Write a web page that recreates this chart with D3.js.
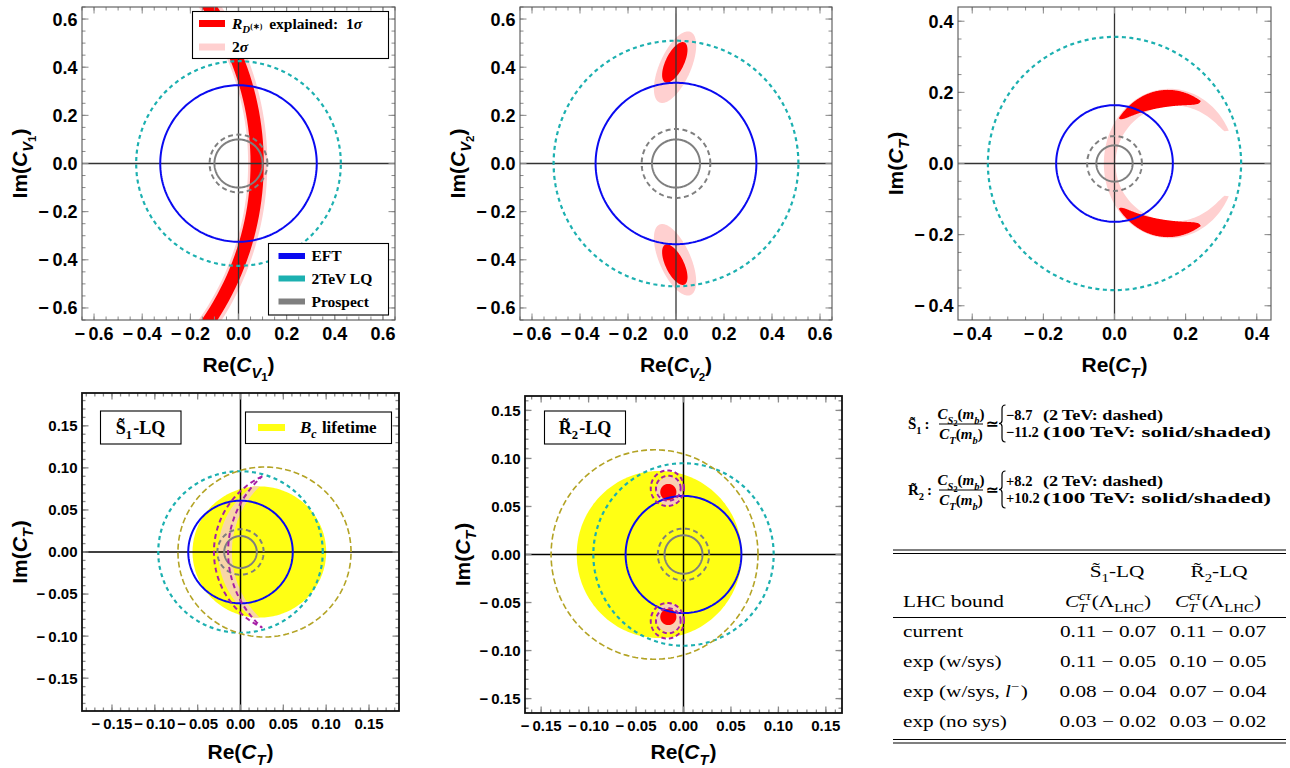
<!DOCTYPE html>
<html>
<head>
<meta charset="utf-8">
<script src="https://cdn.jsdelivr.net/npm/d3@7"></script>
<style>
  body { margin: 0; background: #fff; }
  svg { display: block; }
</style>
</head>
<body>
<svg width="1290" height="768"></svg>
<script>
// ---------- values ----------
const cvTicks = [-0.6, -0.4, -0.2, 0, 0.2, 0.4, 0.6];
const ctTicks = [-0.4, -0.2, 0, 0.2, 0.4];
const lqTicks = [-0.15, -0.10, -0.05, 0, 0.05, 0.10, 0.15];

// bounds drawn as circles: [kind, centre on Re axis, radius]
const cv1Circles = [['lq', 0, 0.425], ['eft', 0, 0.325], ['prospDash', 0, 0.12], ['prosp', 0, 0.10]];
const cv2Circles = [['lq', 0, 0.51], ['eft', 0, 0.335], ['prospDash', 0, 0.143], ['prosp', 0, 0.10]];
const ctCircles  = [['lq', 0, 0.356], ['eft', 0, 0.164], ['prospDash', 0, 0.077], ['prosp', 0, 0.051]];
const s1Circles  = [['lq', 0, 0.096], ['bc2tev', 0.028, 0.101], ['eft', 0, 0.061], ['prospDash', 0, 0.027], ['prosp', 0, 0.019]];
const r2Circles  = [['lq', 0, 0.095], ['bc2tev', -0.0305, 0.109], ['eft', 0, 0.061], ['prospDash', 0, 0.027], ['prosp', 0, 0.020]];

// R_D(*) band for C_V1: [level, centre Re, inner radius, outer radius]
const cv1Band = [['2s', -1.09, 1.13, 1.21], ['1s', -1.09, 1.14, 1.195]];
// C_V2 regions: [level, Re, Im, semi-major, semi-minor, tilt deg]
const cv2Blobs = [
  ['2s', -0.004, 0.40, 0.16, 0.065, 66], ['1s', -0.005, 0.42, 0.092, 0.038, 64],
  ['2s', -0.004, -0.40, 0.16, 0.065, -66], ['1s', -0.005, -0.42, 0.092, 0.038, -64]
];
// C_T crescents: [level, centre Re, outer a, outer b, inner a, inner b, from deg, to deg, taper]
const ctCrescents = [
  ['2s', 0.155, 0.185, 0.21, 0.152, 0.155, 26, 334, 0.3],
  ['1s', 0.15, 0.175, 0.207, 0.15, 0.158, 58, 142, 0.5],
  ['1s', 0.15, 0.175, 0.207, 0.15, 0.158, 218, 302, 0.5]
];
// S1-LQ panel
const s1Lifetime = [0.022, 0.078];                       // Bc lifetime, 100 TeV (centre, radius)
const s1Lens2TeV = [[0.069, 0.100], [0.107, 0.1215]];    // R_D(*) 2 TeV (dashed)
const s1Lens100  = [[0.070, 0.096], [0.100, 0.110]];     // R_D(*) 100 TeV (shaded)
// R2-LQ panel
const r2Lifetime = [-0.0255, 0.087];
const r2Blobs = [['2s', -0.015, 0.066, 0.014, 0.015], ['1s', -0.016, 0.065, 0.0085, 0.0085],
                 ['2s', -0.015, -0.066, 0.014, 0.015], ['1s', -0.016, -0.065, 0.0085, 0.0085]];
const r2Rings = [[-0.017, 0.069, 0.0175, 0.0185], [-0.016, 0.069, 0.013, 0.013],
                 [-0.017, -0.069, 0.0175, 0.0185], [-0.016, -0.069, 0.013, 0.013]];

// right hand text
const s1Ratio = ['\u22128.7', '\u221211.2'];
const r2Ratio = ['+8.2', '+10.2'];
const ratioNotes = ['(2\u2009TeV: dashed)', '(100\u2009TeV: solid/shaded)'];
const tableRows = ['current', 'exp (w/sys)', 'exp (w/sys, ', 'exp (no sys)'];
const s1Bounds = ['0.11 \u2212 0.07', '0.11 \u2212 0.05', '0.08 \u2212 0.04', '0.03 \u2212 0.02'];
const r2Bounds = ['0.11 \u2212 0.07', '0.10 \u2212 0.05', '0.07 \u2212 0.04', '0.03 \u2212 0.02'];

// ---------- styles ----------
const serif = "'Liberation Serif', 'Times New Roman', serif";
const sans = "'Liberation Sans', Arial, sans-serif";
const lineStyle = {
  lq:        {stroke: '#1cb0b0', width: 2.2, dash: '4,3.5'},
  bc2tev:    {stroke: '#b3a324', width: 1.6, dash: '6,3'},
  eft:       {stroke: '#0a0af0', width: 2,   dash: null},
  prospDash: {stroke: '#7f7f7f', width: 2,   dash: '5,3.5'},
  prosp:     {stroke: '#7f7f7f', width: 2,   dash: null}
};
const fillStyle = {'1s': '#ff0000', '2s': '#ffd0d0'};
const peach = '#f8d6a6';

const svg = d3.select('svg');
const defs = svg.append('defs');

const panels = [
  {id: 'p1', left: 82,  right: 395, top: 7,   bottom: 320, dx: 0.65,  dy: 0.65,  ticks: cvTicks, minor: 0.05, digits: 1, heavy: false, sub: 'V', subsub: '1', ylabX: 20,  xlabY: 372},
  {id: 'p2', left: 520, right: 832, top: 7,   bottom: 320, dx: 0.65,  dy: 0.65,  ticks: cvTicks, minor: 0.05, digits: 1, heavy: false, sub: 'V', subsub: '2', ylabX: 458, xlabY: 372},
  {id: 'p3', left: 958, right: 1271, top: 7,  bottom: 320, dx: 0.44,  dy: 0.44,  ticks: ctTicks, minor: 0.05, digits: 1, heavy: false, sub: 'T', subsub: '',  ylabX: 896, xlabY: 372},
  {id: 'p4', left: 82,  right: 399, top: 393, bottom: 711, dx: 0.185, dy: 0.189, ticks: lqTicks, minor: 0.01, digits: 2, heavy: true,  sub: 'T', subsub: '',  ylabX: 20,  xlabY: 759},
  {id: 'p5', left: 525, right: 842, top: 396, bottom: 713, dx: 0.167, dy: 0.165, ticks: lqTicks, minor: 0.01, digits: 2, heavy: true,  sub: 'T', subsub: '',  ylabX: 463, xlabY: 759}
];

// ---------- helpers ----------
const line = d3.line();

function ellipsePt(cx, cy, a, b, rot, tDeg) {
  const t = tDeg * Math.PI / 180, r = rot * Math.PI / 180;
  const ex = a * Math.cos(t), ey = b * Math.sin(t);
  return [cx + ex * Math.cos(r) - ey * Math.sin(r), cy + ex * Math.sin(r) + ey * Math.cos(r)];
}
// points on an ellipse (data coords) mapped through the panel scales
function ringPoints(p, cx, cy, a, b, rot, t0, t1) {
  const n = Math.max(12, Math.ceil(Math.abs(t1 - t0) / 1.5));
  return d3.range(n + 1).map(i => {
    const [u, v] = ellipsePt(cx, cy, a, b, rot, t0 + (t1 - t0) * i / n);
    return [p.x(u), p.y(v)];
  });
}
const closed = pts => line(pts) + 'Z';
const circlePath = (p, cx, cy, r) => closed(ringPoints(p, cx, cy, r, r, 0, 0, 360));

// crescent between two concentric ellipses, pinched to points at both ends
function crescentPath(p, d) {
  const [, cx, ao, bo, ai, bi, t0, t1, k] = d;
  const n = 160, outer = [], inner = [];
  d3.range(n + 1).forEach(i => {
    const t = t0 + (t1 - t0) * i / n;
    const w = Math.pow(Math.sin(Math.PI * i / n), k);
    const po = ellipsePt(cx, 0, ao, bo, 0, t), pi = ellipsePt(cx, 0, ai, bi, 0, t);
    outer.push([p.x(po[0]), p.y(po[1])]);
    inner.push([p.x(po[0] + w * (pi[0] - po[0])), p.y(po[1] + w * (pi[1] - po[1]))]);
  });
  return closed(outer.concat(inner.reverse()));
}

// crescent = circle c1 minus circle c2 (both centred on the real axis)
function lensPath(p, c1, c2) {
  const [a1, r1] = c1, [a2, r2] = c2;
  const xs = (r1 * r1 - r2 * r2 - a1 * a1 + a2 * a2) / (2 * (a2 - a1));
  const ys = Math.sqrt(r1 * r1 - (xs - a1) * (xs - a1));
  const th1 = Math.atan2(ys, xs - a1) * 180 / Math.PI;
  const th2 = Math.atan2(ys, xs - a2) * 180 / Math.PI;
  return closed(ringPoints(p, a1, 0, r1, r1, 0, th1, 360 - th1)
    .concat(ringPoints(p, a2, 0, r2, r2, 0, 360 - th2, th2)));
}

const levelScale = {b: 1, sub: 0.7, ss: 0.55, sup: 0.7, ssup: 0.5};
const levelOff = {b: 0, sub: 0.3, ss: 0.45, sup: -0.4, ssup: 0.05};

// text built of pieces: [text, level, italic, dx]
function rich(parent, x, y, parts, size, opts = {}) {
  const t = parent.append('text').attr('x', x).attr('y', y)
    .attr('font-size', size).attr('font-family', opts.family || serif)
    .attr('font-weight', opts.weight || 'normal')
    .attr('text-anchor', opts.anchor || 'start')
    .attr('fill', '#000');
  if (opts.rotate) t.attr('transform', `rotate(-90,${x},${y})`);
  let shift = 0;
  parts.forEach(([txt, lvl = 'b', it = false, dx = 0]) => {
    const off = size * levelOff[lvl];
    const sp = t.append('tspan').text(txt)
      .attr('font-size', size * levelScale[lvl])
      .attr('font-style', it ? 'italic' : 'normal')
      .attr('dy', off - shift);
    if (dx) sp.attr('dx', dx);
    shift = off;
  });
  return t;
}

function tickVals(d, step) {
  return d3.range(Math.ceil(-d / step - 1e-9), Math.floor(d / step + 1e-9) + 1).map(i => +(i * step).toFixed(4));
}

function drawCircles(p, list) {
  p.lines.selectAll(null).data(list).join('path')
    .attr('d', d => circlePath(p, d[1], 0, d[2]))
    .attr('fill', 'none')
    .attr('stroke', d => lineStyle[d[0]].stroke)
    .attr('stroke-width', d => lineStyle[d[0]].width)
    .attr('stroke-dasharray', d => lineStyle[d[0]].dash);
}

// ---------- panels ----------
panels.forEach(p => {
  p.x = d3.scaleLinear().domain([-p.dx, p.dx]).range([p.left, p.right]);
  p.y = d3.scaleLinear().domain([-p.dy, p.dy]).range([p.bottom, p.top]);
  defs.append('clipPath').attr('id', 'clip-' + p.id).append('rect')
    .attr('x', p.left).attr('y', p.top).attr('width', p.right - p.left).attr('height', p.bottom - p.top);
  p.g = svg.append('g');
  const plot = p.g.append('g').attr('clip-path', `url(#clip-${p.id})`);
  p.fills = plot.append('g');
  p.axes = plot.append('g');
  p.lines = plot.append('g');

  // zero lines
  p.axes.append('line').attr('x1', p.x(0)).attr('x2', p.x(0)).attr('y1', p.top).attr('y2', p.bottom);
  p.axes.append('line').attr('x1', p.left).attr('x2', p.right).attr('y1', p.y(0)).attr('y2', p.y(0));
  p.axes.selectAll('line').attr('stroke', p.heavy ? '#000' : '#333').attr('stroke-width', p.heavy ? 1.5 : 1.3);

  // frame ticks, inward on all sides
  const tg = p.g.append('g').attr('stroke', '#8a8a8a').attr('stroke-width', p.heavy ? 1.3 : 1);
  const addTicks = (vals, len) => {
    vals.forEach(v => {
      const xv = p.x(v), yv = p.y(v);
      if (v >= -p.dx && v <= p.dx) {
        tg.append('line').attr('x1', xv).attr('x2', xv).attr('y1', p.bottom).attr('y2', p.bottom - len);
        tg.append('line').attr('x1', xv).attr('x2', xv).attr('y1', p.top).attr('y2', p.top + len);
      }
      if (v >= -p.dy && v <= p.dy) {
        tg.append('line').attr('y1', yv).attr('y2', yv).attr('x1', p.left).attr('x2', p.left + len);
        tg.append('line').attr('y1', yv).attr('y2', yv).attr('x1', p.right).attr('x2', p.right - len);
      }
    });
  };
  addTicks(tickVals(Math.max(p.dx, p.dy), p.minor), 3.5);
  addTicks(p.ticks, 6.5);
  p.g.append('rect').attr('x', p.left).attr('y', p.top)
    .attr('width', p.right - p.left).attr('height', p.bottom - p.top)
    .attr('fill', 'none').attr('stroke', p.heavy ? '#111' : '#555').attr('stroke-width', p.heavy ? 1.8 : 1.1);

  // tick labels
  const fmt = d3.format('.' + p.digits + 'f');
  const lab = v => (v < 0 ? '\u2212\u2009' : '') + fmt(Math.abs(v));
  const fs = p.heavy ? 15 : 18;
  const tl = p.g.append('g').attr('font-family', sans).attr('font-weight', 'bold').attr('font-size', fs);
  tl.selectAll(null).data(p.ticks).join('text')
    .attr('x', d => p.x(d)).attr('y', p.bottom + (p.heavy ? 18 : 20))
    .attr('text-anchor', 'middle').text(lab);
  tl.selectAll(null).data(p.ticks).join('text')
    .attr('x', p.left - 4.5).attr('y', d => p.y(d) + fs * 0.36)
    .attr('text-anchor', 'end').text(lab);

  // axis titles
  const parts = lead => {
    const a = [[lead + '('], ['C', 'b', true], [p.sub, 'sub', true]];
    if (p.subsub) a.push([p.subsub, 'ss']);
    a.push([')', 'b', false, p.subsub ? 0 : 1]);
    return a;
  };
  rich(p.g, (p.left + p.right) / 2, p.xlabY, parts('Re'), 21, {family: sans, weight: 'bold', anchor: 'middle'});
  rich(p.g, p.ylabX + 7, (p.top + p.bottom) / 2, parts('Im'), 21, {family: sans, weight: 'bold', anchor: 'middle', rotate: true});
  p.top_ = p.g.append('g');
});

const [P1, P2, P3, P4, P5] = panels;

// panel 1: R_D(*) band for C_V1
P1.fills.selectAll(null).data(cv1Band).join('path')
  .attr('d', d => circlePath(P1, d[1], 0, d[3]) + circlePath(P1, d[1], 0, d[2]))
  .attr('fill-rule', 'evenodd')
  .attr('fill', d => fillStyle[d[0]]);
drawCircles(P1, cv1Circles);

// panel 2: C_V2 regions
P2.fills.selectAll(null).data(cv2Blobs).join('path')
  .attr('d', d => closed(ringPoints(P2, d[1], d[2], d[3], d[4], d[5], 0, 360)))
  .attr('fill', d => fillStyle[d[0]]);
drawCircles(P2, cv2Circles);

// panel 3: C_T crescents
P3.fills.selectAll(null).data(ctCrescents).join('path')
  .attr('d', d => crescentPath(P3, d))
  .attr('fill', d => fillStyle[d[0]]);
drawCircles(P3, ctCircles);

// panel 4: S1-LQ
P4.fills.append('path').attr('d', circlePath(P4, s1Lifetime[0], 0, s1Lifetime[1])).attr('fill', '#ffff14');
defs.append('clipPath').attr('id', 'life-s1').append('path').attr('d', circlePath(P4, s1Lifetime[0], 0, s1Lifetime[1]));
P4.fills.append('path').attr('d', lensPath(P4, s1Lens100[0], s1Lens100[1]))
  .attr('clip-path', 'url(#life-s1)').attr('fill', peach);
drawCircles(P4, s1Circles);
P4.lines.append('path').attr('d', lensPath(P4, s1Lens2TeV[0], s1Lens2TeV[1]))
  .attr('fill', 'none').attr('stroke', '#a61fa6').attr('stroke-width', 2).attr('stroke-dasharray', '5,3.5');

// panel 5: R2-LQ
P5.fills.append('path').attr('d', circlePath(P5, r2Lifetime[0], 0, r2Lifetime[1])).attr('fill', '#ffff14');
P5.fills.selectAll(null).data(r2Blobs).join('path')
  .attr('d', d => closed(ringPoints(P5, d[1], d[2], d[3], d[4], 0, 0, 360)))
  .attr('fill', d => d[0] === '2s' ? '#f9cfb4' : fillStyle['1s']);
drawCircles(P5, r2Circles);
P5.lines.selectAll(null).data(r2Rings).join('path')
  .attr('d', d => closed(ringPoints(P5, d[0], d[1], d[2], d[3], 0, 0, 360)))
  .attr('fill', 'none').attr('stroke', '#a61fa6').attr('stroke-width', 2).attr('stroke-dasharray', '4.5,3');

// ---------- legends ----------
function box(g, x0, y0, x1, y1) {
  g.append('rect').attr('x', x0).attr('y', y0).attr('width', x1 - x0).attr('height', y1 - y0)
    .attr('fill', '#fff').attr('stroke', '#000').attr('stroke-width', 1.1);
}
function swatch(g, x0, x1, y, color, w) {
  g.append('line').attr('x1', x0).attr('x2', x1).attr('y1', y).attr('y2', y)
    .attr('stroke', color).attr('stroke-width', w);
}

box(P1.top_, 192.5, 11.5, 388.5, 58.5);
swatch(P1.top_, 199, 225, 23.5, fillStyle['1s'], 7);
swatch(P1.top_, 199, 225, 47, fillStyle['2s'], 7);
rich(P1.top_, 232, 28.5, [['R', 'b', true], ['D', 'sub', true], ['(\u2217)', 'ssup'], [' explained:\u20021', 'b', false, 3], ['\u03c3', 'b', true]], 15.5, {weight: 'bold'});
rich(P1.top_, 232, 52, [['2'], ['\u03c3', 'b', true]], 15.5, {weight: 'bold'});

box(P1.top_, 268.5, 243.5, 388.5, 315);
[['EFT', 'eft', 256], ['2TeV LQ', 'lq', 278.5], ['Prospect', 'prosp', 301.5]].forEach(([t, k, y]) => {
  swatch(P1.top_, 278.5, 305, y, lineStyle[k].stroke, 6);
  P1.top_.append('text').attr('x', 311.5).attr('y', y + 5).attr('font-family', serif)
    .attr('font-weight', 'bold').attr('font-size', 15.5).text(t);
});

box(P4.top_, 100.5, 411, 181, 444);
rich(P4.top_, 140.5, 433.5, [['S\u0303'], ['1', 'sub'], ['-LQ', 'b', false, 1]], 18, {weight: 'bold', anchor: 'middle'});
box(P4.top_, 245.5, 412, 391.5, 443.5);
swatch(P4.top_, 258, 285, 427.5, '#ffff14', 7);
rich(P4.top_, 300, 433, [['B', 'b', true], ['c', 'sub', true], [' lifetime', 'b', false, 1]], 17, {weight: 'bold'});

box(P5.top_, 544.5, 411, 625.5, 444);
rich(P5.top_, 585, 433.5, [['R\u0303'], ['2', 'sub'], ['-LQ', 'b', false, 1]], 18, {weight: 'bold', anchor: 'middle'});

// ---------- ratio formulas ----------
const formulaRows = [
  {name: 'S\u0303', idx: '1', bar: 424, vals: s1Ratio},
  {name: 'R\u0303', idx: '2', bar: 490, vals: r2Ratio}
];
const noteWidth = [120, 228];
const fg = svg.append('g');
formulaRows.forEach(r => {
  const b = {weight: 'bold'};
  rich(fg, 908, r.bar + 5, [[r.name], [r.idx, 'sub'], ['\u2009:']], 15, b);
  rich(fg, 961, r.bar - 5, [['C', 'b', true], ['S', 'sub', true], ['2', 'ss'], ['(', 'b'], ['m', 'b', true], ['b', 'sub', true], [')', 'b']], 15, {weight: 'bold', anchor: 'middle'});
  fg.append('line').attr('x1', 939).attr('x2', 983).attr('y1', r.bar).attr('y2', r.bar)
    .attr('stroke', '#000').attr('stroke-width', 1);
  rich(fg, 961, r.bar + 15, [['C', 'b', true], ['T', 'sub', true], ['(', 'b'], ['m', 'b', true], ['b', 'sub', true], [')', 'b']], 15, {weight: 'bold', anchor: 'middle'});
  fg.append('text').attr('x', 986).attr('y', r.bar + 5).attr('font-family', serif)
    .attr('font-size', 15).attr('font-weight', 'bold').text('\u2243');
  const bx = 1002, y0 = r.bar - 19, y1 = r.bar + 18, m = (y0 + y1) / 2;
  fg.append('path')
    .attr('d', `M${bx + 3.5},${y0} Q${bx},${y0} ${bx},${y0 + 4} L${bx},${m - 3} Q${bx},${m} ${bx - 3},${m} Q${bx},${m} ${bx},${m + 3} L${bx},${y1 - 4} Q${bx},${y1} ${bx + 3.5},${y1}`)
    .attr('fill', 'none').attr('stroke', '#000').attr('stroke-width', 1.2);
  r.vals.forEach((v, i) => {
    const y = r.bar + (i ? 13 : -4);
    fg.append('text').attr('x', 1006).attr('y', y).attr('font-family', serif)
      .attr('font-weight', 'bold').attr('font-size', 14.5).text(v);
    fg.append('text').attr('x', 1043).attr('y', y).attr('font-family', serif)
      .attr('font-weight', 'bold').attr('font-size', 14)
      .attr('textLength', noteWidth[i]).attr('lengthAdjust', 'spacingAndGlyphs').text(ratioNotes[i]);
  });
});

// ---------- table (set wide, like the source) ----------
const sx = 1.25;
const side = svg.append('g').attr('transform', `scale(${sx},1)`);
const X = v => v / sx;
const tx0 = X(893), tx1 = X(1286);
const rule = y => side.append('line').attr('x1', tx0).attr('x2', tx1).attr('y1', y).attr('y2', y)
  .attr('stroke', '#000').attr('stroke-width', 1);
[550, 553.5, 617.5, 739.5, 743].forEach(rule);

const colS1 = X(1108), colR2 = X(1218);
const tfs = 17;
const tt = side.append('g');
rich(tt, X(1117), 577, [['S\u0303'], ['1', 'sub'], ['-LQ']], tfs, {anchor: 'middle'});
rich(tt, X(1219), 577, [['R\u0303'], ['2', 'sub'], ['-LQ']], tfs, {anchor: 'middle'});
tt.append('text').attr('x', X(903)).attr('y', 607).attr('font-family', serif).attr('font-size', tfs).text('LHC bound');
[colS1, colR2].forEach(cx => {
  rich(tt, cx, 607, [['C', 'b', true], ['c\u03c4', 'sup', true], ['T', 'sub', true, -10], ['(', 'b', false, 4],
    ['\u039b'], ['LHC', 'sub'], [')']], tfs, {anchor: 'middle'});
});
tableRows.forEach((name, i) => {
  const y = 637 + 30 * i;
  if (i === 2) {
    rich(tt, X(903), y, [[name], ['l', 'b', true], ['\u2212', 'sup'], [')', 'b', false, 1]], tfs);
  } else {
    tt.append('text').attr('x', X(903)).attr('y', y).attr('font-family', serif).attr('font-size', tfs).text(name);
  }
  tt.append('text').attr('x', colS1).attr('y', y).attr('text-anchor', 'middle')
    .attr('font-family', serif).attr('font-size', tfs).text(s1Bounds[i]);
  tt.append('text').attr('x', colR2).attr('y', y).attr('text-anchor', 'middle')
    .attr('font-family', serif).attr('font-size', tfs).text(r2Bounds[i]);
});
</script>
</body>
</html>
